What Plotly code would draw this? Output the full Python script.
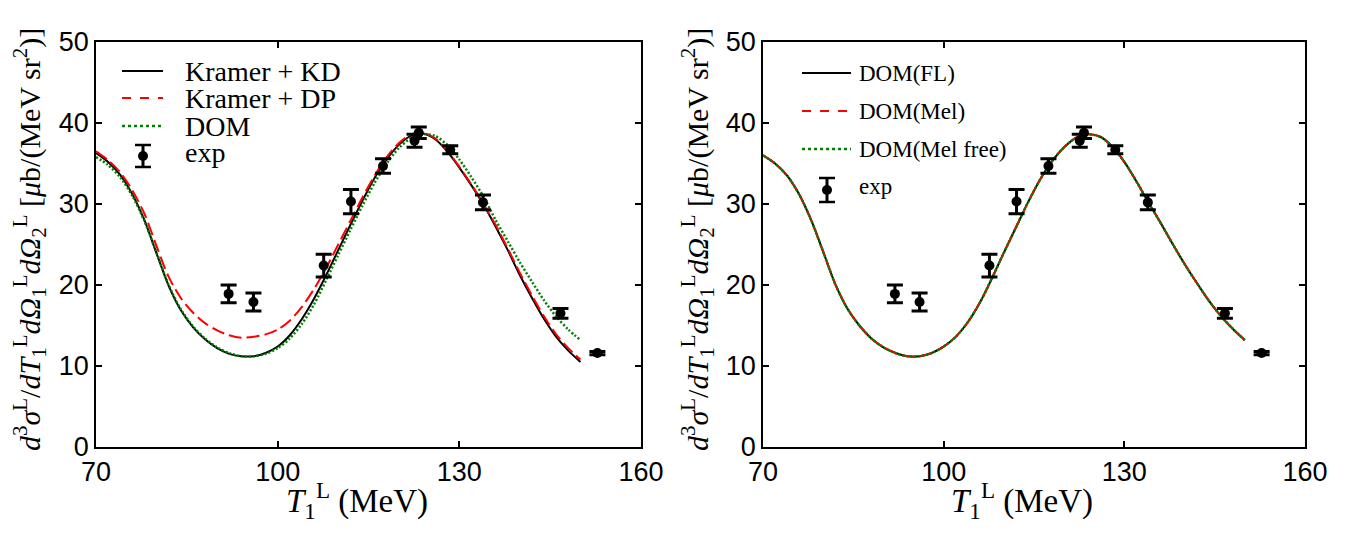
import plotly.graph_objects as go

# curve grid (MeV)
t_grid = [70, 72, 74, 76, 78, 80, 82, 84, 86, 88, 90, 92, 94, 96, 98, 100, 102, 104, 106, 108,
          110, 112, 114, 116, 118, 120, 122, 124, 126, 128, 130, 132, 134, 136, 138, 140, 142, 144,
          146, 148, 150]

# left panel
kramer_kd = [36.3, 35.2, 33.6, 31.2, 28.0, 23.9, 19.9, 16.9, 14.8, 13.3, 12.2, 11.5, 11.2, 11.2,
             11.6, 12.4, 13.8, 15.8, 18.3, 21.2, 24.3, 27.4, 30.4, 33.2, 35.5, 37.3, 38.4, 38.7,
             38.0, 36.5, 34.5, 32.3, 29.9, 27.2, 24.3, 21.2, 18.4, 15.8, 13.6, 11.9, 10.5]
kramer_dp = [36.5, 35.4, 33.9, 31.7, 28.8, 24.8, 21.0, 18.4, 16.6, 15.3, 14.4, 13.8, 13.5, 13.6,
             13.9, 14.5, 15.6, 17.3, 19.5, 22.1, 25.0, 27.9, 30.8, 33.5, 35.8, 37.5, 38.6, 38.8,
             38.1, 36.6, 34.6, 32.4, 30.0, 27.4, 24.5, 21.5, 18.7, 16.1, 13.9, 12.2, 10.8]
dom = [35.8, 34.8, 33.3, 31.0, 27.9, 24.0, 20.0, 17.0, 14.9, 13.4, 12.3, 11.6, 11.2, 11.2,
       11.5, 12.2, 13.4, 15.2, 17.6, 20.6, 23.7, 26.8, 29.8, 32.6, 35.0, 36.9, 38.1, 38.6,
       38.4, 37.3, 35.5, 33.3, 30.9, 28.0, 25.4, 22.8, 20.4, 18.1, 16.1, 14.5, 13.2]

# right panel
dom_fl = [36.0, 35.0, 33.5, 31.2, 28.0, 24.1, 20.1, 17.1, 15.0, 13.4, 12.3, 11.6, 11.2, 11.2,
          11.6, 12.4, 13.6, 15.4, 17.8, 20.8, 24.0, 27.1, 30.2, 33.0, 35.3, 37.0, 38.2, 38.6,
          38.3, 37.1, 35.2, 32.8, 30.2, 27.7, 25.1, 22.6, 20.3, 18.1, 16.2, 14.6, 13.2]
dom_mel = [36.0, 35.0, 33.5, 31.2, 28.0, 24.1, 20.1, 17.1, 15.0, 13.4, 12.3, 11.6, 11.2, 11.2,
           11.6, 12.4, 13.6, 15.4, 17.8, 20.8, 24.0, 27.1, 30.2, 33.0, 35.3, 37.0, 38.2, 38.6,
           38.3, 37.1, 35.2, 32.8, 30.2, 27.7, 25.1, 22.6, 20.3, 18.1, 16.2, 14.6, 13.2]
dom_mel_free = [36.0, 35.0, 33.5, 31.2, 28.0, 24.1, 20.1, 17.1, 15.0, 13.4, 12.3, 11.6, 11.2, 11.2,
                11.6, 12.4, 13.6, 15.4, 17.8, 20.8, 24.0, 27.1, 30.2, 33.0, 35.3, 37.0, 38.2, 38.6,
                38.3, 37.1, 35.2, 32.8, 30.2, 27.7, 25.1, 22.6, 20.3, 18.1, 16.2, 14.6, 13.2]

# experiment
exp_t = [91.9, 96.0, 107.6, 112.1, 117.4, 122.6, 123.3, 128.5, 133.9, 146.7, 152.8]
exp_y = [18.9, 17.9, 22.4, 30.3, 34.7, 37.8, 38.8, 36.7, 30.2, 16.5, 11.6]
exp_err = [1.1, 1.1, 1.4, 1.5, 0.9, 0.8, 0.7, 0.5, 0.9, 0.6, 0.2]

x_ticks = [70, 100, 130, 160]
y_ticks = [0, 10, 20, 30, 40, 50]

left_names = ["Kramer + KD", "Kramer + DP", "DOM"]
right_names = ["DOM(FL)", "DOM(Mel)", "DOM(Mel free)"]

SERIF = "Liberation Serif"
SANS = "Liberation Sans"
W, H = 1359, 539
OFF = 8  # page body margin

styles = [("black", "solid", 2), ("red", "13px,5px", 2), ("green", "2px,2px", 2.5)]


def px(x):
    return (x - OFF) / W


def py(y):
    return 1 - (y - OFF) / H


fig = go.Figure()


def add_curve(y, name, style, xa, ya):
    color, dash, width = style
    fig.add_trace(go.Scatter(
        x=t_grid, y=y, mode="lines", name=name,
        line=dict(color=color, dash=dash, width=width, shape="spline", smoothing=0.8),
        xaxis=xa, yaxis=ya, showlegend=False,
    ))


def add_exp(xa, ya):
    fig.add_trace(go.Scatter(
        x=exp_t, y=exp_y, mode="markers", name="exp",
        marker=dict(color="black", size=10, symbol="circle"),
        error_y=dict(type="data", array=exp_err, color="black", thickness=3, width=8),
        xaxis=xa, yaxis=ya, showlegend=False,
    ))


for ys, nm, st in zip([kramer_kd, kramer_dp, dom], left_names, styles):
    add_curve(ys, nm, st, "x", "y")
add_exp("x", "y")
for ys, nm, st in zip([dom_fl, dom_mel, dom_mel_free], right_names, styles):
    add_curve(ys, nm, st, "x2", "y2")
add_exp("x2", "y2")


def draw_legend(names, x0, x1, text_x, rows, exp_row, exp_x, half, size):
    # line samples + labels
    for (color, dash, width), nm, ry in zip(styles, names, rows):
        d = {"solid": "solid", "13px,5px": "dash", "2px,2px": "dot"}[dash]
        fig.add_shape(type="line", xref="paper", yref="paper", x0=px(x0), x1=px(x1), y0=py(ry), y1=py(ry),
                      line=dict(color=color, width=width, dash=d))
        fig.add_annotation(x=px(text_x), y=py(ry), xref="paper", yref="paper", text=nm, showarrow=False,
                           xanchor="left", yanchor="middle", font=dict(family=SERIF, size=size, color="black"))
    # exp symbol: error bar with dot
    fig.add_shape(type="line", xref="paper", yref="paper", x0=px(exp_x), x1=px(exp_x),
                  y0=py(exp_row - half), y1=py(exp_row + half), line=dict(color="black", width=3))
    for cy in (exp_row - half, exp_row + half):
        fig.add_shape(type="line", xref="paper", yref="paper", x0=px(exp_x - 8), x1=px(exp_x + 8),
                      y0=py(cy), y1=py(cy), line=dict(color="black", width=2.5))
    fig.add_shape(type="circle", xref="paper", yref="paper", x0=px(exp_x - 5), x1=px(exp_x + 5),
                  y0=py(exp_row - 5), y1=py(exp_row + 5), fillcolor="black", line=dict(color="black", width=0))
    fig.add_annotation(x=px(text_x), y=py(exp_row - 4), xref="paper", yref="paper", text="exp", showarrow=False,
                       xanchor="left", yanchor="middle", font=dict(family=SERIF, size=size, color="black"))


draw_legend(left_names, 122, 163, 183, [71, 98, 126], 156, 143, 11, 28)
draw_legend(right_names, 802, 851, 857, [73, 111, 149], 190, 827, 12, 23)


def ax(domain, ticks, anchor):
    return dict(domain=domain, range=[ticks[0], ticks[-1]], tickvals=ticks, ticks="inside", ticklen=6,
                tickwidth=1.5, tickcolor="black", showline=True, linecolor="black", linewidth=1.5,
                mirror="ticks", showgrid=False, zeroline=False, anchor=anchor, automargin=False,
                tickfont=dict(family=SANS, size=27, color="black"))


yd = [py(447), py(42)]
fig.update_layout(
    width=W, height=H,
    margin=dict(l=0, r=0, t=0, b=0),
    paper_bgcolor="white", plot_bgcolor="white",
    xaxis=ax([px(96), px(641)], x_ticks, "y"),
    yaxis=ax(yd, y_ticks, "x"),
    xaxis2=ax([px(763), px(1305)], x_ticks, "y2"),
    yaxis2=ax(yd, y_ticks, "x2"),
    showlegend=False,
)

ytitle = ("<i>d</i><sup>3</sup><i>σ</i><sup>L</sup>/<i>dT</i><sub>1</sub><sup>L</sup>"
          "<i>d</i><i>Ω</i><sub>1</sub><sup>L</sup><i>d</i><i>Ω</i><sub>2</sub><sup>L</sup>"
          " [<i>μ</i>b/(MeV sr<sup>2</sup>)]")
xtitle = "<i>T</i><sub>1</sub><sup>L</sup> (MeV)"

for cx in (30, 698):
    fig.add_annotation(x=px(cx), y=py(240), xref="paper", yref="paper", text=ytitle, textangle=-90,
                       xanchor="center", yanchor="middle",
                       showarrow=False, font=dict(family=SERIF, size=30, color="black"))
for cx in (357, 1022):
    fig.add_annotation(x=px(cx), y=py(500), xref="paper", yref="paper", text=xtitle,
                       xanchor="center", yanchor="middle",
                       showarrow=False, font=dict(family=SERIF, size=33, color="black"))

fig.write_html("out.html")
